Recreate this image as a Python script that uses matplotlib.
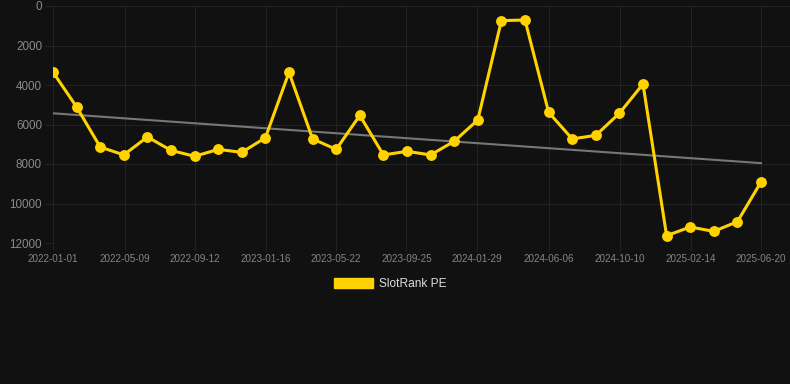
import matplotlib
matplotlib.use("Agg")
import matplotlib.pyplot as plt
import matplotlib.dates as mdates
import matplotlib.patches as mpatches
import numpy as np
import pandas as pd

plt.rcParams['font.family'] = ['Liberation Sans', 'DejaVu Sans']

start_date = "2022-01-01"
end_date = "2025-06-20"
n_points = 31
values = [3350, 5110, 7140, 7540, 6630, 7310, 7610, 7260, 7410, 6670,
          3360, 6730, 7260, 5540, 7540, 7360, 7540, 6850, 5770, 740,
          710, 5380, 6730, 6550, 5430, 3950, 11630, 11190, 11410, 10920, 8910]
tick_labels = ["2022-01-01", "2022-05-09", "2022-09-12", "2023-01-16", "2023-05-22",
               "2023-09-25", "2024-01-29", "2024-06-06", "2024-10-10", "2025-02-14",
               "2025-06-20"]
y_ticks = [0, 2000, 4000, 6000, 8000, 10000, 12000]
series_name = "SlotRank PE"

dates = pd.date_range(start_date, end_date, periods=n_points)
x = mdates.date2num(dates)
y = np.array(values, dtype=float)

bg = "#111111"
gold = "#FFD200"
grid_c = "#222222"

fig = plt.figure(figsize=(7.9, 3.84), dpi=100, facecolor=bg)
ax = fig.add_axes([53/790, 1-243/384, (790-53)/790, (243-6)/384], facecolor=bg)

# trend line (linear regression)
coef = np.polyfit(x, y, 1)
ax.plot([x[0], x[-1]], np.polyval(coef, [x[0], x[-1]]), color="#777777", lw=1.5, zorder=2)

ax.plot(x, y, color=gold, lw=2.2, marker="o", markersize=6.8, zorder=3,
        solid_joinstyle="round")

tick_pos = mdates.date2num(pd.to_datetime(tick_labels))
ax.set_xticks(tick_pos)
ax.set_xticklabels(tick_labels)
ax.set_yticks(y_ticks)
ax.set_yticklabels([str(t) for t in y_ticks])

span = x[-1] - x[0]
ax.set_xlim(x[0], x[-1] + span * (790 - 761) / (761 - 53))
ax.set_ylim(12000, 0)

for s in ax.spines.values():
    s.set_visible(False)
ax.grid(True, color=grid_c, lw=0.8)
ax.tick_params(axis="both", length=6, color=grid_c, width=0.8)
ax.tick_params(axis="x", labelsize=7.1, labelcolor="#858585", pad=2)
ax.tick_params(axis="y", labelsize=8.4, labelcolor="#8a8a8a", pad=2)

handle = mpatches.Patch(facecolor=gold, edgecolor=gold)
leg = fig.legend([handle], [series_name], loc="center", bbox_to_anchor=(390/790, 1-284/384),
                 frameon=False, fontsize=8.6, handlelength=3.3, handleheight=0.9,
                 handletextpad=0.5, labelcolor="#dddddd")

fig.savefig("out.png", dpi=100, facecolor=bg)
